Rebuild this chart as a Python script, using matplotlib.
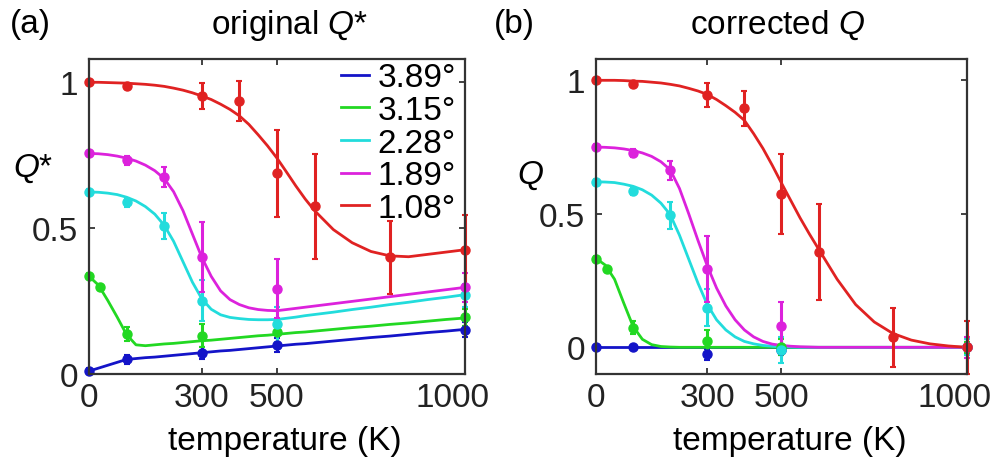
import matplotlib
matplotlib.use("Agg")
import matplotlib.pyplot as plt
import matplotlib.transforms as mtransforms

plt.rcParams['font.family'] = ['Liberation Sans', 'DejaVu Sans']
plt.rcParams['mathtext.fontset'] = 'custom'
plt.rcParams['mathtext.rm'] = 'Liberation Sans'
plt.rcParams['mathtext.it'] = 'Liberation Sans:italic'

# series: twist angles and colours (blue, green, cyan, magenta, red)
angles = ['3.89°', '3.15°', '2.28°', '1.89°', '1.08°']
colors = ['#1414c8', '#22d822', '#22dcdc', '#dc22dc', '#e02222']

# measured points (temperature in K)
t_pts = [
    [0, 100, 300, 500, 1000],
    [0, 30, 100, 300, 500, 1000],
    [0, 100, 200, 300, 500, 1000],
    [0, 100, 200, 300, 500, 1000],
    [0, 100, 300, 400, 500, 600, 800, 1000],
]

# panel (a): original Q*
qa_pts = [
    [0.01, 0.051, 0.072, 0.10, 0.152],
    [0.335, 0.297, 0.137, 0.131, 0.143, 0.194],
    [0.623, 0.589, 0.508, 0.251, 0.171, 0.27],
    [0.756, 0.733, 0.675, 0.40, 0.293, 0.297],
    [1.0, 0.987, 0.953, 0.936, 0.688, 0.575, 0.40, 0.426],
]
qa_err = [
    [0.01, 0.015, 0.02, 0.025, 0.025],
    [0.01, 0.01, 0.025, 0.04, 0.04, 0.03],
    [0.01, 0.015, 0.045, 0.07, 0.06, 0.04],
    [0.01, 0.015, 0.035, 0.12, 0.10, 0.05],
    [0.005, 0.01, 0.045, 0.07, 0.15, 0.18, 0.125, 0.12],
]

# panel (b): corrected Q
qb_pts = [
    [0.0, 0.0, -0.026, -0.01, 0.0],
    [0.331, 0.293, 0.074, 0.024, 0.0, 0.0],
    [0.619, 0.585, 0.494, 0.149, -0.01, 0.0],
    [0.75, 0.728, 0.663, 0.293, 0.08, 0.0],
    [1.0, 0.986, 0.945, 0.895, 0.575, 0.357, 0.037, 0.0],
]
qb_err = [
    [0.01, 0.01, 0.02, 0.02, 0.02],
    [0.01, 0.01, 0.025, 0.04, 0.03, 0.02],
    [0.01, 0.015, 0.05, 0.07, 0.05, 0.03],
    [0.01, 0.015, 0.035, 0.125, 0.09, 0.04],
    [0.005, 0.01, 0.045, 0.065, 0.15, 0.18, 0.11, 0.10],
]

# fitted curves: 0..600 K every 25 K, then every 50 K
t_fit = [0, 25, 50, 75, 100, 125, 150, 175, 200, 225, 250, 275, 300,
         325, 350, 375, 400, 425, 450, 475, 500, 525, 550, 575, 600,
         650, 700, 750, 800, 850, 900, 950, 1000]

qa_fit = [
    [0.01, 0.02, 0.03, 0.04, 0.05, 0.053, 0.056, 0.058, 0.061, 0.064, 0.067, 0.070, 0.073,
     0.076, 0.079, 0.081, 0.084, 0.087, 0.090, 0.093, 0.096, 0.099, 0.102, 0.104, 0.107,
     0.113, 0.119, 0.125, 0.130, 0.136, 0.142, 0.147, 0.153],
    [0.335, 0.305, 0.252, 0.195, 0.135, 0.100, 0.097, 0.100, 0.103, 0.105, 0.108, 0.111, 0.114,
     0.116, 0.119, 0.122, 0.125, 0.128, 0.131, 0.133, 0.136, 0.139, 0.142, 0.144, 0.147,
     0.153, 0.159, 0.164, 0.170, 0.175, 0.181, 0.187, 0.192],
    [0.624, 0.623, 0.62, 0.615, 0.606, 0.593, 0.574, 0.548, 0.51, 0.455, 0.385, 0.315, 0.258,
     0.222, 0.203, 0.194, 0.19, 0.187, 0.186, 0.186, 0.187, 0.191, 0.195, 0.2, 0.204,
     0.212, 0.221, 0.229, 0.238, 0.246, 0.255, 0.263, 0.272],
    [0.756, 0.755, 0.752, 0.747, 0.74, 0.73, 0.716, 0.697, 0.67, 0.625, 0.56, 0.48, 0.40,
     0.335, 0.285, 0.255, 0.238, 0.227, 0.221, 0.218, 0.217, 0.221, 0.225, 0.229, 0.233,
     0.241, 0.249, 0.257, 0.265, 0.273, 0.281, 0.289, 0.297],
    [1.0, 1.0, 0.999, 0.998, 0.997, 0.995, 0.993, 0.99, 0.986, 0.98, 0.973, 0.964, 0.953,
     0.941, 0.925, 0.907, 0.885, 0.856, 0.82, 0.782, 0.74, 0.693, 0.645, 0.60, 0.56,
     0.495, 0.45, 0.42, 0.405, 0.402, 0.41, 0.418, 0.426],
]

qb_fit = [
    [0.0] * 33,
    [0.333, 0.308, 0.255, 0.165, 0.078, 0.03, 0.01, 0.003, 0.001] + [0.0] * 24,
    [0.62, 0.619, 0.617, 0.611, 0.603, 0.59, 0.57, 0.54, 0.497, 0.42, 0.33, 0.24, 0.16,
     0.103, 0.065, 0.039, 0.022, 0.013, 0.007, 0.004, 0.002, 0.001, 0.0, 0.0, 0.0] + [0.0] * 8,
    [0.75, 0.749, 0.747, 0.743, 0.737, 0.728, 0.715, 0.695, 0.665, 0.595, 0.50, 0.40, 0.305,
     0.222, 0.155, 0.103, 0.065, 0.039, 0.022, 0.012, 0.007, 0.004, 0.002, 0.001, 0.0] + [0.0] * 8,
    [1.0, 1.0, 1.0, 0.999, 0.997, 0.996, 0.993, 0.99, 0.985, 0.979, 0.97, 0.96, 0.947,
     0.928, 0.905, 0.88, 0.85, 0.80, 0.745, 0.682, 0.615, 0.55, 0.485, 0.425, 0.368,
     0.255, 0.16, 0.095, 0.052, 0.027, 0.013, 0.005, 0.0],
]

x_ticks = [0, 300, 500, 1000]
y_ticks = [0, 0.5, 1]
y_ticklabels = ['0', '0.5', '1']

FS = 24
EDGE = '#333333'

fig = plt.figure(figsize=(10.01, 4.64), dpi=100)
ax_a = fig.add_axes([0.0889, 0.1918, 0.3756, 0.679])
ax_b = fig.add_axes([0.5954, 0.1918, 0.3706, 0.679])


def draw_panel(ax, q_fit, q_pts, q_err, ylim):
    for i in range(len(angles)):
        ax.plot(t_fit, q_fit[i], color=colors[i], lw=2.0, label=angles[i])
        cont = ax.errorbar(t_pts[i], q_pts[i], yerr=q_err[i], fmt='o', ms=6.5,
                           color=colors[i], elinewidth=2.2, capsize=2.5, capthick=1.5)
        for art in cont.get_children():
            art.set_clip_on(False)
    ax.set_xlim(0, 1000)
    ax.set_ylim(*ylim)
    ax.set_xticks(x_ticks)
    ax.set_xticklabels([str(t) for t in x_ticks])
    ax.set_yticks(y_ticks)
    ax.set_yticklabels(y_ticklabels)
    ax.tick_params(direction='in', length=4, width=1.2, top=True, right=True,
                   labelsize=FS, pad=6, colors='#222222')
    ax.tick_params(axis='y', pad=8)
    for s in ax.spines.values():
        s.set_color(EDGE)
        s.set_linewidth(1.6)
    # "1000" sits a little left of its tick in the original
    lab = ax.get_xticklabels()[-1]
    lab.set_transform(lab.get_transform() +
                      mtransforms.ScaledTranslation(-0.12, 0, fig.dpi_scale_trans))


draw_panel(ax_a, qa_fit, qa_pts, qa_err, (0, 1.08))
draw_panel(ax_b, qb_fit, qb_pts, qb_err, (-0.1, 1.08))

ax_a.legend(loc='upper right', bbox_to_anchor=(0.985, 1.0), frameon=False,
            fontsize=FS, handlelength=0.85, handletextpad=0.25,
            labelspacing=0.05, borderpad=0.0, borderaxespad=0.1)

H = 464.0
W = 1001.0
fig.text(30 / W, 1 - 33 / H, '(a)', fontsize=FS, ha='center', va='baseline')
fig.text(514 / W, 1 - 33 / H, '(b)', fontsize=FS, ha='center', va='baseline')
fig.text(290 / W, 1 - 34 / H, 'original $Q$*', fontsize=FS, ha='center', va='baseline')
fig.text(778 / W, 1 - 34 / H, 'corrected $Q$', fontsize=FS, ha='center', va='baseline')
fig.text(285 / W, 1 - 450 / H, 'temperature (K)', fontsize=FS, ha='center', va='baseline')
fig.text(790 / W, 1 - 450 / H, 'temperature (K)', fontsize=FS, ha='center', va='baseline')
fig.text(33 / W, 1 - 177 / H, '$Q$*', fontsize=FS, ha='center', va='baseline')
fig.text(530 / W, 1 - 184 / H, '$Q$', fontsize=FS, ha='center', va='baseline')

fig.savefig('out.png', dpi=100)
